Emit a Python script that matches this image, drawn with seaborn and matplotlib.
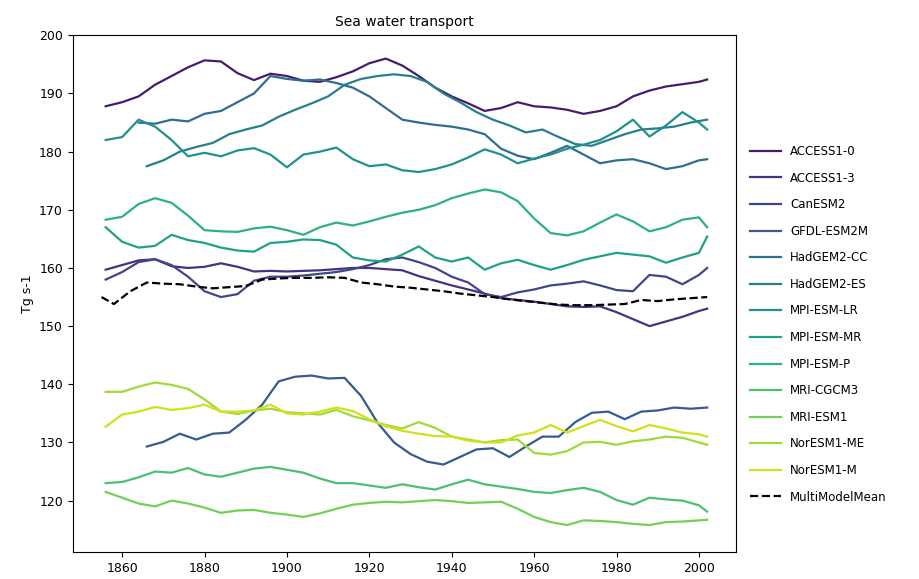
import pandas as pd
import matplotlib
matplotlib.use("Agg")
import matplotlib.pyplot as plt
import seaborn as sns

# values (Tg s-1), smoothed model series
models = ['ACCESS1-0', 'ACCESS1-3', 'CanESM2', 'GFDL-ESM2M', 'HadGEM2-CC', 'HadGEM2-ES',
          'MPI-ESM-LR', 'MPI-ESM-MR', 'MPI-ESM-P', 'MRI-CGCM3', 'MRI-ESM1', 'NorESM1-ME', 'NorESM1-M']

years_full = [1856, 1860, 1864, 1868, 1872, 1876, 1880, 1884, 1888, 1892, 1896, 1900, 1904, 1908,
              1912, 1916, 1920, 1924, 1928, 1932, 1936, 1940, 1944, 1948, 1952, 1956, 1960, 1964,
              1968, 1972, 1976, 1980, 1984, 1988, 1992, 1996, 2000, 2002]

access10 = [187.8, 188.5, 189.5, 191.5, 193.0, 194.5, 195.7, 195.5, 193.5, 192.3, 193.4, 193.0, 192.2, 192.0,
            192.8, 193.8, 195.2, 196.0, 194.8, 193.0, 191.0, 189.5, 188.3, 187.0, 187.5, 188.5, 187.8, 187.6,
            187.2, 186.5, 187.0, 187.8, 189.5, 190.5, 191.2, 191.6, 192.0, 192.4]
access13 = [159.7, 160.5, 161.3, 161.5, 160.3, 160.0, 160.2, 160.8, 160.2, 159.4, 159.5, 159.4, 159.5, 159.6,
            159.8, 160.0, 160.0, 159.8, 159.6, 158.6, 157.8, 157.0, 156.3, 155.6, 154.8, 154.5, 154.2, 153.8,
            153.4, 153.3, 153.4, 152.4, 151.2, 150.0, 150.8, 151.6, 152.6, 153.0]
canesm2 = [158.0, 159.3, 161.0, 161.5, 160.5, 158.5, 156.0, 155.0, 155.5, 157.8, 158.5, 158.5, 158.7, 159.0,
           159.3, 159.8, 160.5, 161.5, 161.8, 161.0, 160.0, 158.5, 157.5, 155.5, 155.0, 155.8, 156.3, 157.0,
           157.3, 157.7, 157.0, 156.2, 156.0, 158.8, 158.5, 157.2, 158.8, 160.0]
mpi_lr = [182.0, 182.5, 185.5, 184.3, 182.0, 179.2, 179.8, 179.2, 180.2, 180.6, 179.5, 177.3, 179.5, 180.0,
          180.7, 178.7, 177.5, 177.8, 176.8, 176.5, 177.0, 177.8, 179.0, 180.4, 179.5, 178.0, 178.8, 179.5,
          180.5, 181.2, 182.0, 183.5, 185.5, 182.6, 184.5, 186.8, 185.0, 183.8]
mpi_mr = [167.0, 164.5, 163.5, 163.8, 165.7, 164.8, 164.3, 163.5, 163.0, 162.8, 164.3, 164.5, 164.9, 164.8,
          164.0, 161.8, 161.3, 161.1, 162.3, 163.7, 161.8, 161.1, 161.8, 159.7, 160.8, 161.4, 160.5, 159.7,
          160.5, 161.4, 162.0, 162.6, 162.3, 162.0, 160.9, 161.8, 162.6, 165.4]
mpi_p = [168.3, 168.8, 171.0, 172.0, 171.2, 169.0, 166.5, 166.3, 166.2, 166.8, 167.1, 166.5, 165.7, 167.0,
         167.8, 167.3, 168.0, 168.8, 169.5, 170.0, 170.8, 172.0, 172.8, 173.5, 173.0, 171.5, 168.5, 166.0,
         165.6, 166.3, 167.8, 169.2, 168.0, 166.3, 167.0, 168.3, 168.7, 167.0]
mri_cgcm3 = [123.0, 123.2, 124.0, 125.0, 124.8, 125.6, 124.5, 124.1, 124.8, 125.5, 125.8, 125.3, 124.8, 123.8,
             123.0, 123.0, 122.6, 122.2, 122.8, 122.3, 121.9, 122.8, 123.6, 122.8, 122.4, 122.0, 121.5, 121.3,
             121.8, 122.2, 121.5, 120.1, 119.3, 120.5, 120.2, 120.0, 119.2, 118.1]
mri_esm1 = [121.5, 120.5, 119.5, 119.0, 120.0, 119.5, 118.8, 117.9, 118.3, 118.4, 117.9, 117.6, 117.2, 117.8,
            118.6, 119.3, 119.6, 119.8, 119.7, 119.9, 120.1, 119.9, 119.6, 119.7, 119.8, 118.6, 117.2, 116.3,
            115.8, 116.6, 116.5, 116.3, 116.0, 115.8, 116.3, 116.4, 116.6, 116.7]
noresm1_me = [138.7, 138.7, 139.6, 140.3, 139.9, 139.2, 137.4, 135.3, 134.9, 135.5, 135.8, 135.2, 135.0, 134.8,
              135.6, 134.5, 133.8, 133.0, 132.4, 133.5, 132.5, 131.0, 130.5, 130.0, 130.4, 130.5, 128.2, 127.9,
              128.5, 130.0, 130.1, 129.6, 130.2, 130.5, 131.0, 130.8, 130.0, 129.6]
noresm1_m = [132.7, 134.8, 135.3, 136.1, 135.6, 135.9, 136.5, 135.3, 135.3, 135.5, 136.5, 135.0, 134.8, 135.3,
             136.0, 135.4, 134.0, 132.8, 132.0, 131.5, 131.1, 131.0, 130.3, 130.0, 130.0, 131.2, 131.7, 133.0,
             131.7, 132.8, 133.9, 132.8, 131.9, 133.0, 132.4, 131.7, 131.4, 131.0]

years_hadcc = [1864, 1868, 1872, 1876, 1880, 1884, 1888, 1892, 1896, 1900, 1904, 1908, 1912, 1916,
               1920, 1924, 1928, 1932, 1936, 1940, 1944, 1948, 1952, 1956, 1960, 1964, 1968, 1972,
               1976, 1980, 1984, 1988, 1992, 1996, 2000, 2002]
hadgem2_cc = [185.0, 184.8, 185.5, 185.2, 186.5, 187.0, 188.5, 190.0, 193.0, 192.5, 192.2, 192.4, 191.8, 191.0,
              189.5, 187.5, 185.5, 185.0, 184.6, 184.3, 183.8, 183.0, 180.5, 179.3, 178.7, 179.8, 181.0, 179.5,
              178.0, 178.5, 178.7, 178.0, 177.0, 177.5, 178.5, 178.7]

years_late = [1866, 1870, 1874, 1878, 1882, 1886, 1890, 1894, 1898, 1902, 1906, 1910, 1914, 1918,
              1922, 1926, 1930, 1934, 1938, 1942, 1946, 1950, 1954, 1958, 1962, 1966, 1970, 1974,
              1978, 1982, 1986, 1990, 1994, 1998, 2002]
hadgem2_es = [177.5, 178.5, 180.0, 180.8, 181.5, 183.0, 183.8, 184.5, 186.0, 187.2, 188.3, 189.5, 191.5, 192.5,
              193.0, 193.3, 193.0, 192.0, 190.0, 188.5, 186.8, 185.5, 184.5, 183.3, 183.8, 182.5, 181.3, 181.0,
              182.0, 183.0, 183.8, 184.0, 184.3, 185.0, 185.5]
gfdl = [129.3, 130.1, 131.5, 130.5, 131.5, 131.7, 133.9, 136.5, 140.5, 141.3, 141.5, 141.0, 141.1, 138.0,
        133.4, 130.0, 128.0, 126.7, 126.2, 127.5, 128.8, 129.0, 127.5, 129.3, 131.0, 131.0, 133.5, 135.1,
        135.3, 134.0, 135.3, 135.5, 136.0, 135.8, 136.0]

years_mean = [1855, 1858, 1862, 1866, 1870, 1874, 1878, 1882, 1886, 1890, 1894, 1898, 1902, 1906,
              1910, 1914, 1918, 1922, 1926, 1930, 1934, 1938, 1942, 1946, 1950, 1954, 1958, 1962,
              1966, 1970, 1974, 1978, 1982, 1986, 1990, 1994, 1998, 2002]
multimodel_mean = [155.0, 153.8, 156.0, 157.5, 157.3, 157.2, 156.8, 156.5, 156.7, 156.9, 158.0, 158.2, 158.3, 158.3,
                   158.4, 158.3, 157.5, 157.2, 156.8, 156.6, 156.3, 156.0, 155.6, 155.3, 155.0, 154.6, 154.3, 154.0,
                   153.7, 153.6, 153.6, 153.7, 153.8, 154.5, 154.3, 154.6, 154.8, 155.0]

series = {
    'ACCESS1-0': (years_full, access10),
    'ACCESS1-3': (years_full, access13),
    'CanESM2': (years_full, canesm2),
    'GFDL-ESM2M': (years_late, gfdl),
    'HadGEM2-CC': (years_hadcc, hadgem2_cc),
    'HadGEM2-ES': (years_late, hadgem2_es),
    'MPI-ESM-LR': (years_full, mpi_lr),
    'MPI-ESM-MR': (years_full, mpi_mr),
    'MPI-ESM-P': (years_full, mpi_p),
    'MRI-CGCM3': (years_full, mri_cgcm3),
    'MRI-ESM1': (years_full, mri_esm1),
    'NorESM1-ME': (years_full, noresm1_me),
    'NorESM1-M': (years_full, noresm1_m),
}

# long format table for seaborn
frames = []
for name in models:
    yrs, vals = series[name]
    frames.append(pd.DataFrame({'year': yrs, 'transport': vals, 'model': name}))
data = pd.concat(frames, ignore_index=True)
mean_df = pd.DataFrame({'year': years_mean, 'transport': multimodel_mean})

fig = plt.figure(figsize=(9.2, 5.79), dpi=100)
ax = fig.add_axes([0.079, 0.047, 0.721, 0.893])

sns.lineplot(data=data, x='year', y='transport', hue='model', hue_order=models,
             palette=sns.color_palette('viridis', len(models)), linewidth=1.6, ax=ax)
sns.lineplot(data=mean_df, x='year', y='transport', color='black', linestyle='--',
             linewidth=1.6, label='MultiModelMean', ax=ax)

ax.set_xlim(1848, 2009)
ax.set_ylim(111.2, 200.1)
ax.set_xticks([1860, 1880, 1900, 1920, 1940, 1960, 1980, 2000])
ax.set_yticks([120, 130, 140, 150, 160, 170, 180, 190, 200])
ax.tick_params(labelsize=9)
ax.set_xlabel('')
ax.set_ylabel('Tg s-1', fontsize=9)
ax.set_title('Sea water transport', fontsize=10)

ax.legend(loc='center left', bbox_to_anchor=(1.005, 0.44), frameon=False,
          fontsize=8.5, labelspacing=1.15, handlelength=2.6)

plt.savefig('out.png', dpi=100)
